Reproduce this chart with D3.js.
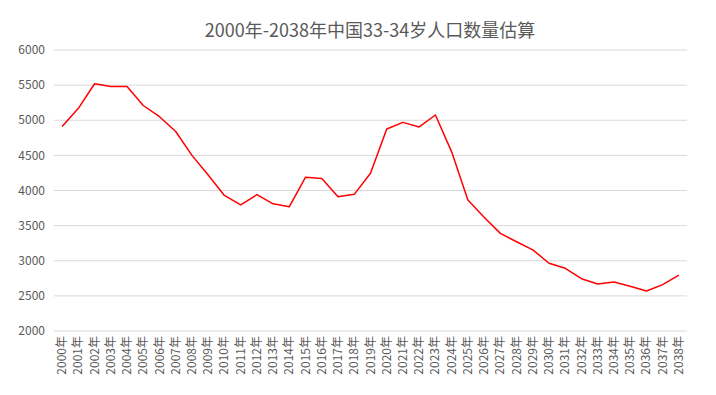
<!DOCTYPE html>
<html>
<head>
<meta charset="utf-8">
<script src="https://cdn.jsdelivr.net/npm/d3@7"></script>
<style>
  html, body { margin: 0; padding: 0; background: #fff; }
  svg { display: block; }
  text { font-family: "Noto Sans CJK SC", "DejaVu Sans", sans-serif; }
</style>
</head>
<body>
<svg></svg>
<script>
const years = d3.range(2000, 2039).map(y => y + '年');
const population = [
  4910, 5170, 5520, 5480, 5480, 5210, 5050, 4840, 4500, 4220,
  3930, 3795, 3940, 3810, 3770, 4190, 4170, 3910, 3945, 4245,
  4875, 4970, 4905, 5075, 4550, 3865, 3620, 3390, 3270, 3155,
  2965, 2892, 2745, 2670, 2697, 2636, 2570, 2660, 2795
];
const yTicks = [2000, 2500, 3000, 3500, 4000, 4500, 5000, 5500, 6000];
const title = '2000年-2038年中国33-34岁人口数量估算';

const width = 716, height = 395;
const margin = {top: 50, right: 29, bottom: 64, left: 54};
const innerWidth = width - margin.left - margin.right;
const innerHeight = height - margin.top - margin.bottom;

const svg = d3.select('svg')
  .attr('width', width)
  .attr('height', height);

svg.append('text')
  .text(title)
  .attr('x', 370)
  .attr('y', 37)
  .attr('text-anchor', 'middle')
  .attr('font-size', 18)
  .attr('fill', '#595959');

const xScale = d3.scaleBand()
  .domain(years)
  .range([margin.left, margin.left + innerWidth]);

const yScale = d3.scaleLinear()
  .domain([2000, 6000])
  .range([margin.top + innerHeight, margin.top]);

// grid
svg.append('g').selectAll('line').data(yTicks)
  .enter().append('line')
  .attr('x1', margin.left).attr('x2', margin.left + innerWidth)
  .attr('y1', d => yScale(d)).attr('y2', d => yScale(d))
  .attr('stroke', '#d9d9d9');

// y labels
svg.append('g').selectAll('text').data(yTicks)
  .enter().append('text')
  .text(d3.format('d'))
  .attr('x', margin.left - 9)
  .attr('y', d => yScale(d))
  .attr('dy', '0.35em')
  .attr('text-anchor', 'end')
  .attr('font-size', 12)
  .attr('fill', '#595959');

// x labels, rotated
const xPos = d => xScale(d) + xScale.bandwidth() / 2 + 4;
const xTop = margin.top + innerHeight + 5;
svg.append('g').selectAll('text').data(years)
  .enter().append('text')
  .text(d => d)
  .attr('x', xPos)
  .attr('y', xTop)
  .attr('transform', d => `rotate(-90, ${xPos(d)}, ${xTop})`)
  .attr('text-anchor', 'end')
  .attr('font-size', 12)
  .attr('fill', '#595959');

const line = d3.line()
  .x((d, i) => xScale(years[i]) + xScale.bandwidth() / 2)
  .y(d => yScale(d));

svg.append('path')
  .datum(population)
  .attr('d', line)
  .attr('fill', 'none')
  .attr('stroke', '#ff0000')
  .attr('stroke-width', 1.5)
  .attr('stroke-linejoin', 'round');
</script>
</body>
</html>
